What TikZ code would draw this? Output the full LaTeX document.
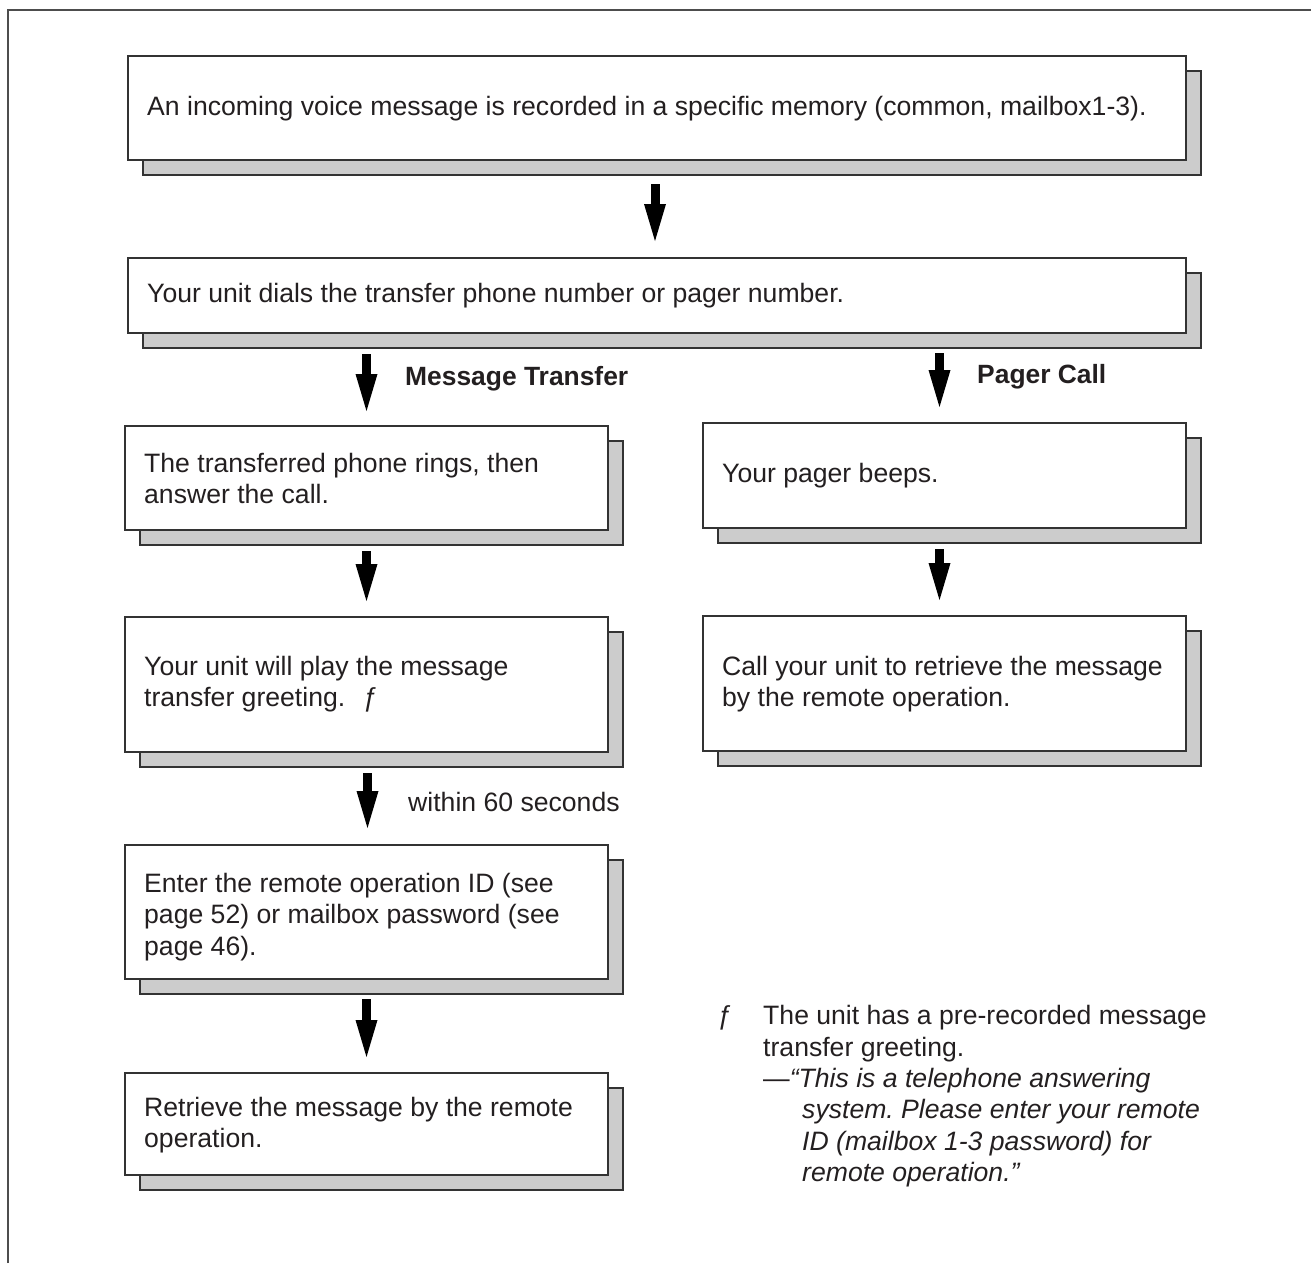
\documentclass[tikz,border=0pt]{standalone}
\usepackage{fontspec}
\setmainfont{Liberation Sans}
\usetikzlibrary{arrows.meta,shadows,calc}
\definecolor{linecol}{HTML}{333333}
\definecolor{framecol}{HTML}{4D4D4D}
\definecolor{shadowcol}{HTML}{CCCCCC}
\definecolor{textcol}{HTML}{231F20}
\newcommand\firstline{\rule{0pt}{22pt}}
\frenchspacing
\begin{document}
\begin{tikzpicture}[x=1pt,y=-1pt,
 box/.style={draw=linecol, line width=1.3pt, fill=white, anchor=north west, inner sep=0pt, outer sep=0pt,
   general shadow={fill=shadowcol, draw=linecol, line width=1.3pt, shadow xshift=15pt, shadow yshift=-15pt}},
 txt/.style={anchor=north west, inner sep=0pt, align=left, text=textcol, font=\fontsize{26.6}{31.4}\selectfont},
 lbl/.style={anchor=base west, inner sep=0pt, text=textcol, font=\fontsize{26.6}{31.4}\selectfont},
 flow/.style={line width=9pt, draw=black, -{Triangle[length=37pt,width=22pt,line width=0pt]}},
]
\useasboundingbox (0,0) rectangle (1311,1263);
% frame
\coordinate (fbl) at (8,1263);
\coordinate (ftl) at (8,10);
\coordinate (ftr) at (1311,10);
\draw[framecol, line width=2pt] (fbl) -- (ftl) -- (ftr);

% boxes
\node[box, minimum width=1058pt, minimum height=104pt] (b1) at (128,56) {};
\node[box, minimum width=1058pt, minimum height=75pt]  (b2) at (128,258) {};
\node[box, minimum width=483pt, minimum height=104pt] (b3) at (125,426) {};
\node[box, minimum width=483pt, minimum height=135pt] (b4) at (125,617) {};
\node[box, minimum width=483pt, minimum height=134pt] (b5) at (125,845) {};
\node[box, minimum width=483pt, minimum height=102pt] (b6) at (125,1073) {};
\node[box, minimum width=483pt, minimum height=105pt] (b7) at (703,423) {};
\node[box, minimum width=483pt, minimum height=135pt] (b8) at (703,616) {};

% texts
\node[txt] (t1) at (147,93) {\firstline An incoming voice message is recorded in a specific memory (common, mailbox1-3).};
\node[txt] (t2) at (147,280) {\firstline Your unit dials the transfer phone number or pager number.};
\node[txt] (t3) at (144,450) {\firstline The transferred phone rings, then\\answer the call.};
\node[txt] (t4) at (144,653) {\firstline Your unit will play the message\\transfer greeting.\hspace{18pt}ƒ};
\node[txt] (t5) at (144,870) {\firstline Enter the remote operation ID (see\\page 52) or mailbox password (see\\page 46).};
\node[txt] (t6) at (144,1094) {\firstline Retrieve the message by the remote\\operation.};
\node[txt] (t7) at (722,460) {\firstline Your pager beeps.};
\node[txt] (t8) at (722,653) {\firstline Call your unit to retrieve the message\\by the remote operation.};

% labels
\node[lbl, font=\fontsize{26.4}{31.4}\selectfont\bfseries] (l1) at (405,385) {Message Transfer};
\node[lbl, font=\fontsize{26.4}{31.4}\selectfont\bfseries] (l2) at (977,383) {Pager Call};
\node[lbl] (l3) at (408,811.7) {within 60 seconds};

% footnote
\node[lbl] (fmark) at (717.6,1024.5) {ƒ};
\node[txt] (fnote) at (763,1002.5) {\firstline The unit has a pre-recorded message\\transfer greeting.\\—\textit{“This is a telephone answering}\\\hspace*{39pt}\textit{system. Please enter your remote}\\\hspace*{39pt}\textit{ID (mailbox 1-3 password) for}\\\hspace*{39pt}\textit{remote operation.”}};

% connectors
\draw[flow] ($(b1.south)+(-2,24)$) -- ($(b2.north)+(-2,-17)$);
\draw[flow] ($(b2.south -| b3.north)+(0,21)$) -- ($(b3.north)+(0,-15)$);
\draw[flow] ($(b2.south -| b7.north)+(-5,20)$) -- ($(b7.north)+(-5,-16)$);
\draw[flow] ($(b3.south)+(0,21)$) -- ($(b4.north)+(0,-16)$);
\draw[flow] ($(b7.south)+(-5,21)$) -- ($(b8.north)+(-5,-16)$);
\draw[flow] ($(b4.south)+(1,21)$) -- ($(b5.north)+(1,-17)$);
\draw[flow] ($(b5.south)+(0,20)$) -- ($(b6.north)+(0,-16)$);
\end{tikzpicture}
\end{document}
